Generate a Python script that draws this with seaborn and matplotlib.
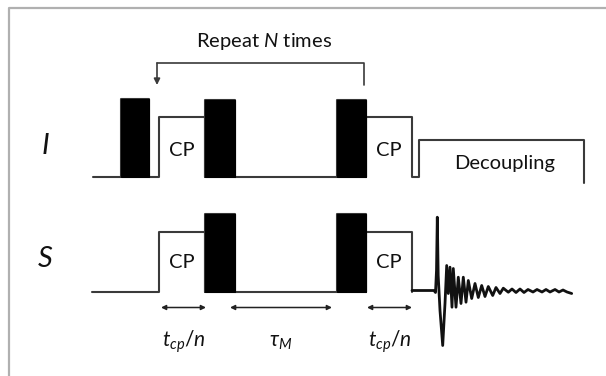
import numpy as np
import pandas as pd
import matplotlib
matplotlib.use("Agg")
import matplotlib.pyplot as plt
import seaborn as sns

sns.set_theme(style="white")
plt.rcParams["font.family"] = ["Lato", "DejaVu Sans"]
plt.rcParams["mathtext.fontset"] = "custom"
plt.rcParams["mathtext.rm"] = "Lato"
plt.rcParams["mathtext.it"] = "Lato:italic"
plt.rcParams["mathtext.bf"] = "Lato:bold"

# ---------------- data (time axis in arbitrary units, amplitudes relative to baseline)
channel_names = ["I", "S"]

i_start = [121, 159, 205, 337, 366, 419]
i_end = [149, 205, 235, 366, 412, 584]
i_amp = [78, 60, 77, 77, 60, 37]
i_kind = ["pulse", "CP", "pulse", "pulse", "CP", "Decoupling"]

s_start = [159, 205, 337, 366]
s_end = [205, 235, 366, 412]
s_amp = [60, 77.5, 77.5, 60]
s_kind = ["CP", "pulse", "pulse", "CP"]

fid_t = [412, 434, 435.5, 436.5, 437.3, 438.2, 440, 442.7, 445, 446.7, 448.3, 450,
         452, 453.3, 456, 458.3, 461, 463.3, 466, 468.3, 471.7, 475, 478.3, 481.7,
         485, 488.3, 492.7, 496, 500, 503.3, 508.3, 512, 516, 520, 524, 528, 533,
         537, 542, 546, 550, 555, 559, 563, 567, 571.7]
fid_amp = [0, 0, -2, 20, 73.3, 15, -20, -55, -13, 25, -3, 23.3, -16.7, 22, -16.7,
           13.3, -13, 13.3, -11.7, 10, -8, 7, -7, 5, -6, 4, -5, 3, -3, 2.3, -1.7,
           1.5, -2, 1.5, -2, 1, -1.5, 1, -1.5, 1, -1.5, 1, -1.5, 0.5, -1.5, -3]

delay_start = [161, 230, 367]
delay_end = [206, 332, 412]
delay_labels = [r"$t_{cp}/n$", r"$\tau_M$", r"$t_{cp}/n$"]

repeat_from = 364
repeat_to = 157
repeat_label = r"Repeat $N$ times"

# ---------------- layout constants
W, H = 606, 376
I_BASE = H - 177
S_BASE = H - 291.5
LINE_C = "#3a3a3a"
TXT_C = "#111111"
TXT = 14.5


def outline(x0, starts, ends, amps):
    xs, ys = [x0], [0.0]
    for s, e, a in zip(starts, ends, amps):
        xs += [s, s, e, e]
        ys += [0, a, a, 0]
    return xs, ys


fig = plt.figure(figsize=(W / 100, H / 100), dpi=100)
ax = fig.add_axes([0, 0, 1, 1])
ax.set_xlim(0, W)
ax.set_ylim(0, H)
ax.axis("off")

# frame
ax.plot([9, 9, W + 5], [-5, H - 8, H - 8], color="#b0b0b0", lw=1.6,
        solid_capstyle="butt")

# I channel outline
xi, yi = outline(93, i_start, i_end, i_amp)
yi[-1] = -6
df_i = pd.DataFrame({"t": xi, "y": np.array(yi) + I_BASE})
sns.lineplot(data=df_i, x="t", y="y", sort=False, estimator=None, ax=ax,
             color=LINE_C, lw=1.5, zorder=2)

# S channel outline + FID
xs_, ys_ = outline(92, s_start, s_end, s_amp)
df_s = pd.DataFrame({"t": xs_, "y": np.array(ys_) + S_BASE})
sns.lineplot(data=df_s, x="t", y="y", sort=False, estimator=None, ax=ax,
             color=LINE_C, lw=1.5, zorder=2)
df_f = pd.DataFrame({"t": fid_t, "y": np.array(fid_amp) + S_BASE + 1})
sns.lineplot(data=df_f, x="t", y="y", sort=False, estimator=None, ax=ax,
             color="#111111", lw=2.0, zorder=2)

# pulses and block labels
for base, st, en, am, kd, cp_off in [(I_BASE, i_start, i_end, i_amp, i_kind, 27),
                                     (S_BASE, s_start, s_end, s_amp, s_kind, 28.5)]:
    for s, e, a, k in zip(st, en, am, kd):
        if k == "pulse":
            ax.bar((s + e) / 2, a, width=e - s, bottom=base, color="black",
                   edgecolor="black", lw=0.8, zorder=3)
        elif k == "CP":
            ax.text((s + e) / 2, base + cp_off, "CP", ha="center", va="center",
                    fontsize=TXT, color=TXT_C)
        else:
            ax.text((s + e) / 2 + 3, base + 13, k, ha="center", va="center",
                    fontsize=TXT, color=TXT_C)

# channel labels
for name, base in zip(channel_names, [I_BASE, S_BASE]):
    ax.text(45, base + (31 if name == "I" else 32.5), name, ha="center", va="center",
            fontsize=21, style="italic", color=TXT_C)

# delay arrows
for s, e, lab in zip(delay_start, delay_end, delay_labels):
    ax.annotate("", xy=(e, 68.5), xytext=(s, 68.5),
                arrowprops=dict(arrowstyle="<|-|>", color="#222222", lw=1.1,
                                mutation_scale=7, shrinkA=0, shrinkB=0))
    ax.text((s + e) / 2, 29, lab, ha="center", va="baseline", fontsize=15,
            color=TXT_C)

# repeat bracket
ax.plot([repeat_from, repeat_from, repeat_to], [H - 85, H - 63, H - 63],
        color=LINE_C, lw=1.2)
ax.annotate("", xy=(repeat_to, H - 85), xytext=(repeat_to, H - 63),
            arrowprops=dict(arrowstyle="-|>", color=LINE_C, lw=1.2,
                            mutation_scale=9, shrinkA=0, shrinkB=0))
ax.text((repeat_from + repeat_to) / 2 + 4, H - 41, repeat_label, ha="center",
        va="center", fontsize=TXT, color=TXT_C)

fig.savefig("out.png", dpi=100, facecolor="white")
